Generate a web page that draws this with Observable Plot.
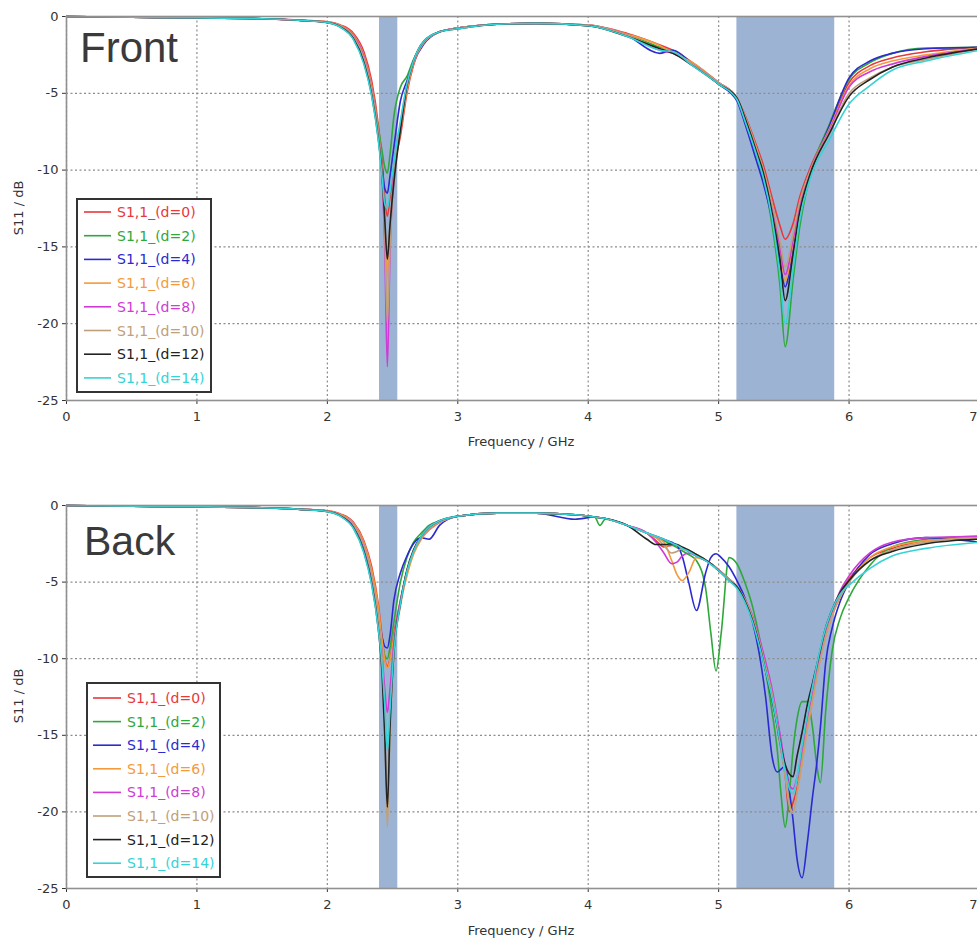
<!DOCTYPE html>
<html><head><meta charset="utf-8">
<script src="https://cdn.jsdelivr.net/npm/d3@7"></script>
<script src="https://cdn.jsdelivr.net/npm/@observablehq/plot@0.6"></script>
<style>
html,body{margin:0;padding:0;background:#fff;overflow:hidden}
#wrap{position:relative;width:977px;height:941px;overflow:hidden;background:#fff}
.panel{position:absolute;left:0}
#overlay{position:absolute;left:0;top:0;pointer-events:none}
</style></head><body>
<div id="wrap"><div id="top" class="panel" style="top:0"></div><div id="bot" class="panel" style="top:489px"></div></div>
<script>
// ---------- DATA ----------
const seriesNames = ["S1,1_(d=0)","S1,1_(d=2)","S1,1_(d=4)","S1,1_(d=6)","S1,1_(d=8)","S1,1_(d=10)","S1,1_(d=12)","S1,1_(d=14)"];
const xTicks = [0,1,2,3,4,5,6,7];
const yTicks = [0,-5,-10,-15,-20,-25];
const xDomain = [0,7];
const yDomain = [-25,0];
const bandStart = [2.40, 5.14];
const bandEnd = [2.54, 5.89];
const panelTitles = ["Front","Back"];
const xLabel = "Frequency / GHz";
const yLabel = "S11 / dB";

const freqFront = [0,0.5,1.0,1.5,1.8, 2.0,2.1,2.2,2.28,2.34, 2.39,2.42,2.44,2.46,2.48, 2.51,2.56,2.61,2.66,2.74,
  2.86,3.0,3.3,3.6,4.0, 4.3,4.55,4.65,4.8,5.0, 5.14,5.21,5.29,5.34,5.41, 5.47,5.51,5.57,5.62,5.7, 5.85,6.0,6.16,6.33,6.59, 7.0];
const frontD0 = [0,-0.05,-0.08,-0.15,-0.25, -0.35,-0.55,-1.1,-2.3,-4.2, -7.0,-9.5,-11.8,-13.0,-11.8, -9.8,-7.8,-5.0,-3.2,-1.7,
  -1.0,-0.75,-0.5,-0.45,-0.55, -1.1,-1.85,-2.2,-3.0,-4.3, -5.3,-6.6,-8.4,-9.6,-11.8, -13.6,-14.5,-13.5,-11.8,-9.9, -7.2,-4.3,-3.2,-2.7,-2.3, -2.0];
const frontD2 = [0,-0.05,-0.08,-0.15,-0.25, -0.38,-0.6,-1.3,-2.7,-4.8, -7.2,-8.8,-9.8,-10.2,-9.0, -6.5,-4.6,-3.9,-2.8,-1.7,
  -1.0,-0.75,-0.5,-0.45,-0.6, -1.2,-2.0,-2.3,-3.1,-4.4, -5.4,-6.9,-9.0,-10.5,-13.6, -17.5,-21.5,-17.2,-13.8,-10.4, -7.0,-4.1,-3.0,-2.4,-2.05, -2.0];
const frontD4 = [0,-0.05,-0.08,-0.15,-0.25, -0.38,-0.62,-1.35,-2.8,-4.9, -7.6,-9.8,-11.2,-11.5,-10.4, -8.5,-5.5,-4.2,-3.0,-1.8,
  -1.0,-0.75,-0.5,-0.45,-0.6, -1.25,-2.4,-2.2,-3.1,-4.4, -5.5,-7.2,-9.4,-10.8,-13.2, -16.0,-17.6,-15.0,-12.6,-10.3, -7.1,-4.0,-2.9,-2.4,-2.1, -2.0];
const frontD6 = [0,-0.05,-0.08,-0.15,-0.25, -0.36,-0.58,-1.2,-2.5,-4.5, -7.4,-10.0,-13.5,-17.0,-14.0, -10.5,-7.5,-4.8,-3.1,-1.7,
  -1.0,-0.75,-0.5,-0.45,-0.55, -1.15,-1.9,-2.4,-3.0,-4.3, -5.3,-6.7,-8.6,-9.9,-12.3, -15.0,-17.2,-14.8,-12.4,-10.1, -7.3,-4.5,-3.4,-2.9,-2.5, -2.05];
const frontD8 = [0,-0.05,-0.08,-0.15,-0.25, -0.37,-0.6,-1.25,-2.6,-4.7, -7.6,-10.5,-15.0,-22.8,-15.5, -10.0,-7.0,-4.5,-3.0,-1.7,
  -1.0,-0.75,-0.5,-0.45,-0.55, -1.2,-2.2,-2.4,-3.1,-4.3, -5.3,-6.8,-8.7,-10.0,-12.3, -15.0,-16.8,-14.6,-12.3,-10.1, -7.4,-4.6,-3.6,-3.1,-2.6, -2.1];
const frontD10 = [0,-0.05,-0.08,-0.15,-0.25, -0.37,-0.6,-1.3,-2.7,-4.8, -7.6,-10.3,-14.0,-20.0,-15.0, -10.5,-7.3,-4.6,-3.0,-1.7,
  -1.0,-0.75,-0.5,-0.45,-0.55, -1.2,-2.1,-2.3,-3.1,-4.3, -5.3,-6.7,-8.6,-9.9,-12.2, -14.6,-16.3,-14.2,-12.1,-10.1, -7.5,-5.0,-4.0,-3.3,-2.8, -2.1];
const frontD12 = [0,-0.05,-0.08,-0.15,-0.25, -0.4,-0.68,-1.45,-3.0,-5.1, -7.9,-10.4,-13.2,-15.8,-13.6, -10.8,-7.4,-4.5,-2.9,-1.6,
  -1.0,-0.8,-0.5,-0.45,-0.6, -1.3,-2.1,-2.4,-3.2,-4.4, -5.3,-6.8,-8.8,-10.1,-12.8, -15.8,-18.5,-15.5,-12.8,-10.3, -7.6,-5.2,-4.1,-3.3,-2.7, -2.1];
const frontD14 = [0,-0.05,-0.08,-0.15,-0.25, -0.4,-0.7,-1.5,-3.1,-5.2, -8.0,-10.5,-12.2,-12.5,-11.4, -9.5,-6.8,-4.4,-2.9,-1.6,
  -1.0,-0.8,-0.5,-0.45,-0.6, -1.3,-2.2,-2.3,-3.2,-4.4, -5.4,-7.0,-9.0,-10.4,-13.2, -16.8,-20.0,-16.5,-13.3,-10.6, -8.0,-5.7,-4.5,-3.5,-2.9, -2.2];

const freqBack = [0,0.5,1.0,1.5,1.8, 2.0,2.1,2.2,2.28,2.34, 2.39,2.42,2.44,2.46,2.48, 2.51,2.56,2.61,2.66,2.72,
  2.78,2.86,3.0,3.3,3.6, 3.9,4.05,4.09,4.13,4.3, 4.45,4.52,4.58,4.64,4.68, 4.72,4.77,4.83,4.9,4.94,
  4.98,5.02,5.08,5.14,5.2, 5.26,5.31,5.36,5.41,5.45, 5.48,5.51,5.54,5.57,5.6, 5.64,5.68,5.72,5.75,5.78,
  5.82,5.87,5.93,6.0,6.16, 6.33,6.59,7.0];
const backD0 = [0,-0.05,-0.08,-0.15,-0.25, -0.35,-0.55,-1.1,-2.3,-4.0, -6.4,-8.6,-10.0,-10.5,-10.0, -8.4,-6.2,-4.3,-3.0,-2.1,
  -1.6,-1.1,-0.7,-0.5,-0.5, -0.6,-0.75,-0.8,-0.85,-1.3, -1.8,-2.3,-2.7,-2.6,-2.6, -2.8,-3.0,-3.3,-3.6,-3.8,
  -4.05,-4.35,-4.8,-5.3,-6.1, -7.3,-8.8,-10.5,-12.4,-14.5, -16.0,-17.6,-20.0,-19.4,-18.5, -16.5,-14.3,-12.5,-11.0,-9.8,
  -8.4,-7.0,-5.8,-4.8,-3.4, -2.8,-2.3,-2.1];
const backD2 = [0,-0.05,-0.08,-0.15,-0.25, -0.37,-0.6,-1.25,-2.6,-4.5, -7.0,-8.9,-9.8,-10.0,-9.3, -7.6,-5.0,-3.4,-2.4,-1.8,
  -1.3,-1.0,-0.7,-0.5,-0.5, -0.6,-0.75,-1.3,-0.9,-1.3, -1.8,-2.05,-2.3,-2.55,-2.75, -2.95,-3.2,-3.6,-5.4,-8.3,
  -10.8,-8.3,-3.4,-3.8,-5.0, -6.6,-8.5,-10.8,-13.5,-16.0, -19.0,-21.0,-19.0,-16.0,-14.0, -12.8,-12.8,-14.5,-16.8,-18.1,
  -13.5,-9.5,-7.4,-6.0,-3.9, -2.7,-2.2,-2.0];
const backD4 = [0,-0.05,-0.08,-0.15,-0.25, -0.37,-0.6,-1.3,-2.7,-4.6, -7.0,-8.6,-9.2,-9.3,-8.5, -6.2,-4.4,-3.3,-2.5,-2.1,
  -2.2,-1.3,-0.7,-0.5,-0.5, -0.9,-0.75,-0.8,-0.85,-1.3, -1.8,-2.0,-2.2,-2.4,-2.6, -3.3,-5.0,-6.85,-4.4,-3.4,
  -3.15,-3.4,-4.0,-4.9,-6.0, -7.6,-9.6,-12.5,-16.4,-17.4, -17.2,-17.0,-18.5,-20.5,-23.0, -24.3,-22.0,-19.0,-17.0,-14.5,
  -10.3,-8.0,-6.3,-5.0,-3.2, -2.5,-2.1,-2.4];
const backD6 = [0,-0.05,-0.08,-0.15,-0.25, -0.36,-0.57,-1.15,-2.4,-4.2, -6.6,-8.8,-10.1,-10.6,-10.1, -8.6,-6.4,-4.6,-3.2,-2.2,
  -1.6,-1.1,-0.7,-0.5,-0.5, -0.6,-0.75,-0.8,-0.85,-1.3, -1.8,-2.1,-2.4,-3.6,-4.5, -4.9,-4.4,-3.4,-3.6,-3.8,
  -4.05,-4.35,-4.8,-5.3,-6.1, -7.3,-8.8,-10.5,-12.3,-14.2, -15.8,-17.5,-19.4,-20.0,-18.8, -16.8,-14.6,-12.8,-11.3,-10.0,
  -8.6,-7.2,-6.0,-5.0,-3.4, -2.7,-2.3,-2.1];
const backD8 = [0,-0.05,-0.08,-0.15,-0.25, -0.37,-0.6,-1.25,-2.6,-4.6, -7.4,-9.8,-12.0,-13.5,-12.0, -9.0,-6.2,-4.3,-3.0,-2.1,
  -1.5,-1.1,-0.7,-0.5,-0.5, -0.6,-0.75,-0.8,-0.85,-1.3, -1.8,-2.4,-3.1,-3.8,-3.7, -3.3,-3.1,-3.3,-3.6,-3.8,
  -4.05,-4.35,-4.8,-5.3,-6.1, -7.2,-8.6,-10.2,-12.0,-13.9, -15.4,-17.0,-18.2,-18.5,-17.8, -16.0,-14.0,-12.3,-11.0,-9.8,
  -8.3,-6.9,-5.6,-4.6,-3.1, -2.4,-2.1,-2.0];
const backD10 = [0,-0.05,-0.08,-0.15,-0.25, -0.37,-0.6,-1.25,-2.6,-4.5, -7.2,-10.0,-14.0,-21.0,-15.0, -9.6,-6.6,-4.4,-3.1,-2.1,
  -1.5,-1.1,-0.7,-0.5,-0.5, -0.6,-0.75,-0.8,-0.85,-1.3, -1.8,-2.1,-2.6,-3.1,-3.0, -2.8,-2.95,-3.2,-3.55,-3.8,
  -4.05,-4.35,-4.8,-5.3,-6.1, -7.3,-8.8,-10.5,-12.3,-14.2, -15.9,-17.6,-19.5,-20.1,-18.8, -16.6,-14.4,-12.6,-11.2,-10.0,
  -8.5,-7.2,-6.0,-5.0,-3.6, -2.9,-2.4,-2.1];
const backD12 = [0,-0.05,-0.08,-0.15,-0.25, -0.4,-0.68,-1.45,-3.0,-5.1, -8.0,-11.0,-15.0,-19.7,-14.5, -9.6,-6.4,-4.2,-2.9,-2.0,
  -1.4,-1.0,-0.7,-0.5,-0.5, -0.6,-0.75,-0.8,-0.85,-1.3, -2.2,-2.55,-2.55,-2.5,-2.55, -2.7,-2.9,-3.2,-3.55,-3.8,
  -4.1,-4.4,-4.9,-5.3,-6.2, -7.5,-9.0,-10.8,-12.7,-14.4, -15.8,-16.9,-17.5,-17.7,-16.4, -14.8,-13.0,-11.6,-10.5,-9.4,
  -8.0,-6.8,-5.7,-4.9,-3.6, -3.0,-2.5,-2.2];
const backD14 = [0,-0.05,-0.08,-0.15,-0.25, -0.4,-0.7,-1.5,-3.1,-5.2, -8.0,-10.5,-13.0,-16.0,-13.4, -9.5,-6.4,-4.3,-3.0,-2.0,
  -1.4,-1.0,-0.7,-0.5,-0.5, -0.6,-0.75,-0.8,-0.85,-1.3, -1.8,-2.0,-2.2,-2.45,-2.6, -2.8,-3.0,-3.3,-3.6,-3.85,
  -4.1,-4.4,-4.9,-5.4,-6.3, -7.6,-9.1,-10.8,-12.6,-14.4, -15.9,-17.3,-18.4,-18.8,-17.8, -15.6,-13.6,-11.8,-10.5,-9.3,
  -8.0,-6.8,-5.8,-5.2,-4.1, -3.3,-2.8,-2.4];

// ---------- STYLE ----------
const seriesColors = ["#e8383b","#2ea83a","#2a2ad0","#f39a3c","#d03ad6","#bfa07a","#222222","#35d3d6"];
const bandColor = "#9db3d3";
const gridColor = "#8c8c8c";
const fontFam = "'DejaVu Sans', Verdana, sans-serif";

function tidy(freq, seriesList) {
  const out = [];
  seriesList.forEach((vals, k) => vals.forEach((v, i) => out.push({f: freq[i], db: v, s: seriesNames[k]})));
  return out;
}

function panel(freq, seriesList, height, marginBottom) {
  const data = tidy(freq, seriesList);
  const bands = bandStart.map((b, i) => ({x1: b, x2: bandEnd[i], y1: yDomain[0], y2: yDomain[1]}));
  const svg = Plot.plot({
    width: 979, height, marginTop: 16, marginBottom, marginLeft: 66, marginRight: 0,
    style: {fontFamily: fontFam, fontSize: "13px", color: "#333", background: "white", maxWidth: "none"},
    x: {domain: xDomain, ticks: xTicks, tickSize: 4, tickPadding: 7, tickFormat: d => String(d), label: null},
    y: {domain: yDomain, ticks: yTicks, tickSize: 4, tickPadding: 4, tickFormat: d => String(d), label: null},
    color: {domain: seriesNames, range: seriesColors},
    marks: [
      Plot.rect(bands, {x1: "x1", x2: "x2", y1: "y1", y2: "y2", fill: bandColor}),
      Plot.ruleX(xTicks, {stroke: gridColor, strokeWidth: 1.2, strokeDasharray: "2,2.5"}),
      Plot.ruleY(yTicks, {stroke: gridColor, strokeWidth: 1.2, strokeDasharray: "2,2.5"}),
      Plot.line(data, {x: "f", y: "db", z: "s", stroke: "s", strokeWidth: 1.6, curve: "monotone-x"}),
      Plot.frame({stroke: "#909090", strokeWidth: 1.6})
    ]
  });
  // the last x tick label sits on the right edge: keep it inside the picture
  const last = String(xTicks[xTicks.length - 1]);
  d3.select(svg).selectAll("text").filter(function() { return this.textContent === last; })
    .attr("text-anchor", "end").attr("dx", "-2");
  return svg;
}

document.getElementById("top").appendChild(panel(freqFront, [frontD0,frontD2,frontD4,frontD6,frontD8,frontD10,frontD12,frontD14], 489, 89));
document.getElementById("bot").appendChild(panel(freqBack, [backD0,backD2,backD4,backD6,backD8,backD10,backD12,backD14], 452, 53));

// ---------- OVERLAY: titles, axis labels, legends ----------
const ov = d3.select("#wrap").append("svg").attr("id","overlay").attr("width",977).attr("height",941)
  .style("font-family", fontFam);

const layout = [
  {title: panelTitles[0], tx: 80, ty: 62, tsize: 42, yc: 208, xl: 441,
   box: [77,199,134,193], row0: 212, step: 23.7, l0: 84, l1: 111, tx0: 117},
  {title: panelTitles[1], tx: 84, ty: 555, tsize: 41, yc: 696, xl: 930,
   box: [87,683,133,194], row0: 698, step: 23.6, l0: 93, l1: 121, tx0: 127}
];
layout.forEach(L => {
  ov.append("text").attr("x", L.tx).attr("y", L.ty).attr("font-size", L.tsize)
    .attr("font-family", "'Liberation Sans', Arial, sans-serif").attr("fill", "#3a3a3a").text(L.title);
  ov.append("text").attr("transform", `translate(18,${L.yc}) rotate(-90)`).attr("text-anchor","middle")
    .attr("dominant-baseline","central").attr("font-size",13).attr("fill","#333").text(yLabel);
  ov.append("text").attr("x", 521).attr("y", L.xl).attr("text-anchor","middle")
    .attr("dominant-baseline","central").attr("font-size",13).attr("fill","#333").text(xLabel);
  const [bx,by,bw,bh] = L.box;
  ov.append("rect").attr("x",bx).attr("y",by).attr("width",bw).attr("height",bh)
    .attr("fill","white").attr("stroke","#333").attr("stroke-width",2);
  seriesNames.forEach((n,i) => {
    const y = L.row0 + L.step*i;
    ov.append("line").attr("x1",L.l0).attr("x2",L.l1).attr("y1",y).attr("y2",y)
      .attr("stroke",seriesColors[i]).attr("stroke-width",1.6);
    ov.append("text").attr("x",L.tx0).attr("y",y).attr("dominant-baseline","central")
      .attr("font-size",14).attr("fill",seriesColors[i]).text(n);
  });
});
</script></body></html>
